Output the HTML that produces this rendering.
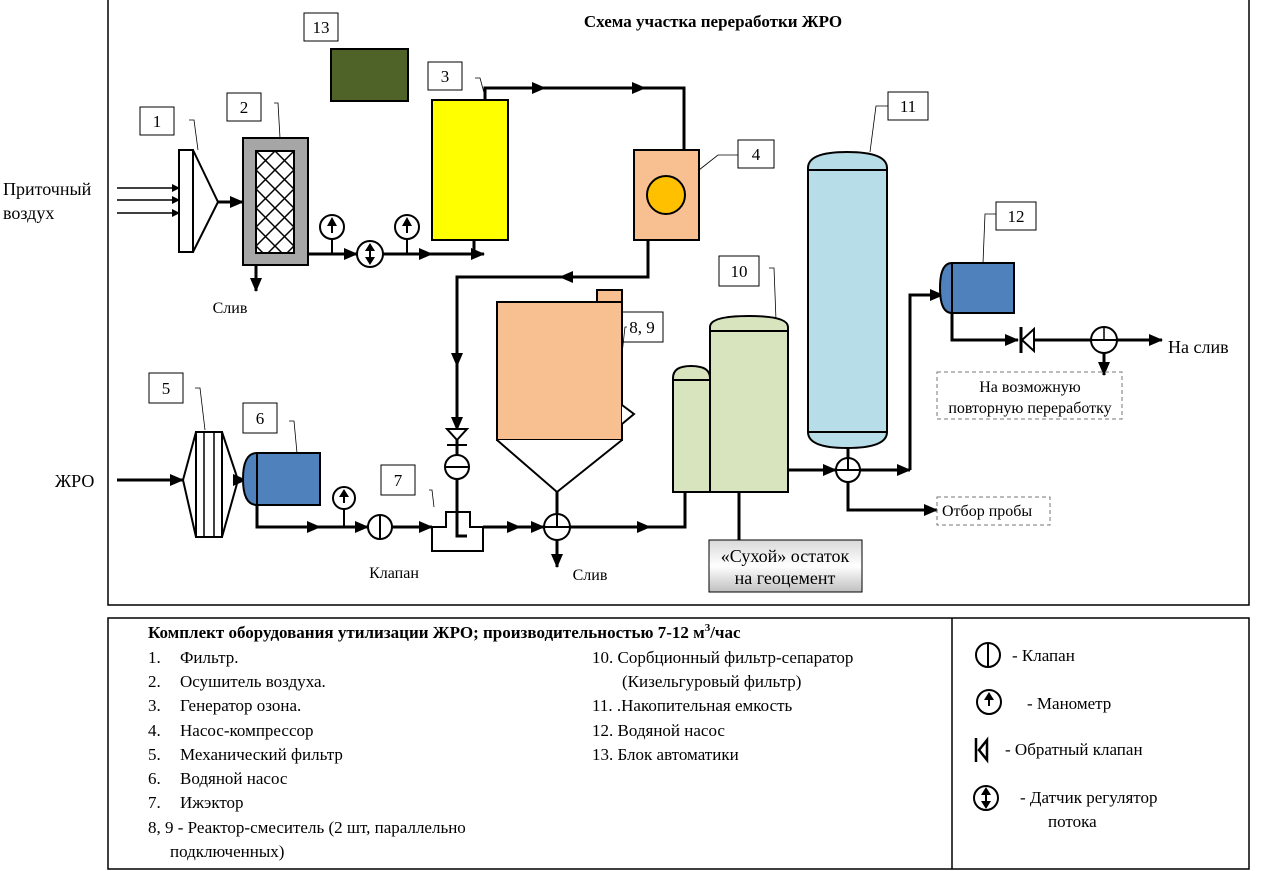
<!DOCTYPE html>
<html><head><meta charset="utf-8"><style>
html,body{margin:0;padding:0;background:#fff;}
svg{display:block;font-family:"Liberation Serif",serif;}
svg text{font-family:"Liberation Serif",serif;}
</style></head><body>
<svg width="1280" height="871" viewBox="0 0 1280 871" xmlns="http://www.w3.org/2000/svg">
<defs>
<marker id="a" markerWidth="8" markerHeight="8" refX="7" refY="4" orient="auto" markerUnits="userSpaceOnUse"><path d="M0,0 L8,4 L0,8 z" fill="#000"/></marker>
<marker id="b" markerWidth="14" markerHeight="12" refX="13" refY="6" orient="auto" markerUnits="userSpaceOnUse"><path d="M0,0 L14,6 L0,12 z" fill="#000"/></marker>
<pattern id="h" width="19" height="19" patternUnits="userSpaceOnUse" x="256" y="151"><rect width="19" height="19" fill="#fff"/><path d="M0,0 L19,19 M19,0 L0,19" stroke="#000" stroke-width="1.5"/></pattern>
<linearGradient id="g" x1="0" y1="0" x2="0" y2="1"><stop offset="0" stop-color="#d9d9d9"/><stop offset="0.5" stop-color="#fff"/><stop offset="1" stop-color="#bfbfbf"/></linearGradient>
</defs>
<rect x="108" y="-2" width="1141" height="607" fill="none" stroke="#000" stroke-width="1.5"/>
<rect x="108" y="618" width="1141" height="251" fill="none" stroke="#000" stroke-width="1.5"/>
<line x1="952" y1="618" x2="952" y2="869" stroke="#000" stroke-width="1.5"/>
<text x="713" y="27" font-size="17" font-weight="bold" text-anchor="middle">Схема участка переработки ЖРО</text>

<g fill="#fff" stroke="#000" stroke-width="1">
<rect x="304" y="13" width="34" height="28"/><rect x="428" y="62" width="34" height="28"/>
<rect x="140" y="107" width="34" height="28"/><rect x="227" y="93" width="34" height="28"/>
<rect x="738" y="140" width="36" height="28"/><rect x="888" y="92" width="40" height="28"/>
<rect x="996" y="202" width="40" height="28"/><rect x="719" y="256" width="40" height="30"/>
<rect x="621" y="312" width="42" height="30"/><rect x="149" y="373" width="34" height="30"/>
<rect x="243" y="403" width="34" height="30"/><rect x="381" y="465" width="34" height="30"/>
</g>
<g font-size="17" text-anchor="middle">
<text x="321" y="33">13</text><text x="445" y="82">3</text><text x="157" y="127">1</text><text x="244" y="113">2</text>
<text x="756" y="160">4</text><text x="908" y="112">11</text><text x="1016" y="222">12</text><text x="739" y="277">10</text>
<text x="642" y="333">8, 9</text><text x="166" y="394">5</text><text x="260" y="424">6</text><text x="398" y="486">7</text>
</g>
<g fill="none" stroke="#000" stroke-width="0.8">
<path d="M189,120 L194,120 L198,150"/><path d="M274,103 L278,103 L280,138"/><path d="M475,78 L480,78 L486,100"/>
<path d="M738,155 L718,155 L699,170"/><path d="M888,106 L876,106 L870,152"/><path d="M996,214 L985,214 L983,263"/>
<path d="M769,268 L774,268 L776,320"/><path d="M627,327 L625,327 L620,372"/><path d="M195,388 L200,388 L205,430"/>
<path d="M289,421 L294,421 L297,453"/><path d="M429,490 L432,490 L434,507"/>
</g>

<rect x="331" y="49" width="77" height="52" fill="#4F6228" stroke="#000" stroke-width="2"/>
<rect x="432" y="100" width="76" height="140" fill="#FFFF00" stroke="#000" stroke-width="2"/>
<rect x="634" y="150" width="65" height="90" fill="#F8C090" stroke="#000" stroke-width="2"/>
<circle cx="666" cy="195" r="19" fill="#FFC000" stroke="#000" stroke-width="2"/>

<rect x="179" y="150" width="14" height="102" fill="#fff" stroke="#000" stroke-width="2"/>
<path d="M193,150 L218,202 L193,252" fill="none" stroke="#000" stroke-width="2"/>
<g stroke="#000" stroke-width="1.5" marker-end="url(#a)"><line x1="117" y1="188" x2="179" y2="188"/><line x1="117" y1="200" x2="179" y2="200"/><line x1="117" y1="213" x2="179" y2="213"/></g>
<g stroke="#000" stroke-width="3" fill="none" marker-end="url(#b)">
<line x1="218" y1="202" x2="243" y2="202"/>
<line x1="256" y1="265" x2="256" y2="291"/>
<line x1="308" y1="254" x2="357" y2="254"/>
<line x1="383" y1="254" x2="432" y2="254"/>
<line x1="432" y1="254" x2="484" y2="254"/>
<polyline points="485,100 485,88 545,88"/>
<line x1="545" y1="88" x2="645" y2="88"/>
<polyline points="645,88 684,88 684,150" marker-end="none"/>
<polyline points="648,240 648,277 560,277"/>
<polyline points="560,277 457,277 457,366"/>
<line x1="457" y1="366" x2="457" y2="430"/>
</g>
<rect x="243" y="138" width="65" height="127" fill="#A6A6A6" stroke="#000" stroke-width="2"/>
<rect x="256" y="151" width="38" height="102" fill="url(#h)" stroke="#000" stroke-width="2"/>
<line x1="474" y1="240" x2="474" y2="254" stroke="#000" stroke-width="3"/>
<g stroke="#000" stroke-width="2" fill="#fff">
<line x1="332" y1="239" x2="332" y2="254"/><circle cx="332" cy="227" r="12"/>
<line x1="407" y1="239" x2="407" y2="254"/><circle cx="407" cy="227" r="12"/>
<circle cx="370" cy="254" r="13"/>
</g>
<g fill="#000"><path d="M332,217 L327,226 L337,226z"/><rect x="331" y="225" width="2" height="8"/>
<path d="M407,217 L402,226 L412,226z"/><rect x="406" y="225" width="2" height="8"/>
<path d="M370,243 L365,251 L375,251z M370,265 L365,257 L375,257z"/><rect x="369" y="250" width="2" height="8"/></g>
<text x="230" y="313" font-size="16" text-anchor="middle">Слив</text>

<path d="M447,429 L467,429 L457,440 z M447,445 L467,445" fill="#fff" stroke="#000" stroke-width="2"/>
<line x1="457" y1="440" x2="457" y2="516" stroke="#000" stroke-width="3"/>
<circle cx="457" cy="467" r="12" fill="#fff" stroke="#000" stroke-width="2"/>
<line x1="445" y1="467" x2="469" y2="467" stroke="#000" stroke-width="2"/>

<rect x="597" y="290" width="25" height="12" fill="#F8C090" stroke="#000" stroke-width="2"/>
<rect x="497" y="302" width="125" height="138" fill="#F8C090" stroke="#000" stroke-width="2"/>
<path d="M622,405 L634,414 L622,424" fill="#fff" stroke="#000" stroke-width="2"/>
<path d="M497,440 L557,492 L622,440" fill="#fff" stroke="#000" stroke-width="2"/>
<line x1="557" y1="492" x2="557" y2="514" stroke="#000" stroke-width="3"/>

<path d="M196,432 L183,480 L196,537 M222,432 L238,480 L222,537" fill="none" stroke="#000" stroke-width="2"/>
<rect x="196" y="432" width="26" height="105" fill="#fff" stroke="#000" stroke-width="2"/>
<line x1="204" y1="432" x2="204" y2="537" stroke="#000" stroke-width="1.5"/><line x1="214" y1="432" x2="214" y2="537" stroke="#000" stroke-width="1.5"/>
<g stroke="#000" stroke-width="3" fill="none" marker-end="url(#b)">
<line x1="117" y1="480" x2="183" y2="480"/>
<line x1="238" y1="480" x2="246" y2="480"/>
<polyline points="257,505 257,527 320,527"/>
<line x1="320" y1="527" x2="368" y2="527"/>
<line x1="392" y1="527" x2="432" y2="527"/>
<line x1="483" y1="527" x2="520" y2="527"/>
<line x1="520" y1="527" x2="544" y2="527"/>
<line x1="557" y1="540" x2="557" y2="567"/>
<line x1="570" y1="527" x2="650" y2="527"/>
<polyline points="650,527 685,527 685,492" marker-end="none"/>
</g>
<path d="M257,453 Q243,453 243,479 Q243,505 257,505 z" fill="#4F81BD" stroke="#000" stroke-width="2"/>
<rect x="257" y="453" width="63" height="52" fill="#4F81BD" stroke="#000" stroke-width="2"/>
<g stroke="#000" stroke-width="2" fill="#fff">
<line x1="344" y1="509" x2="344" y2="527"/><circle cx="344" cy="498" r="11"/>
<circle cx="380" cy="527" r="12"/><line x1="380" y1="515" x2="380" y2="539"/>
<circle cx="557" cy="527" r="13"/><line x1="544" y1="527" x2="570" y2="527"/><line x1="557" y1="514" x2="557" y2="527"/>
</g>
<path d="M344,489 L339,497 L349,497z" fill="#000"/><rect x="343" y="496" width="2" height="7" fill="#000"/>
<path d="M432,551 L432,527 L446,527 L446,512 L470,512 L470,527 L483,527 L483,551 z" fill="#fff" stroke="#000" stroke-width="2"/>
<polyline points="457,512 457,536 467,536" fill="none" stroke="#000" stroke-width="3"/>
<text x="394" y="578" font-size="16" text-anchor="middle">Клапан</text>
<text x="590" y="580" font-size="16" text-anchor="middle">Слив</text>

<path d="M673,378 Q673,366 691,366 Q710,366 710,378 L710,492 L673,492 z" fill="#D7E4BD" stroke="#000" stroke-width="2"/>
<line x1="673" y1="380" x2="710" y2="380" stroke="#000" stroke-width="2"/>
<path d="M710,327 Q710,316 749,316 Q788,316 788,327 L788,492 L710,492 z" fill="#D7E4BD" stroke="#000" stroke-width="2"/>
<line x1="710" y1="331" x2="788" y2="331" stroke="#000" stroke-width="2"/>
<line x1="739" y1="492" x2="739" y2="540" stroke="#000" stroke-width="3"/>
<rect x="709" y="540" width="153" height="52" fill="url(#g)" stroke="#000" stroke-width="1"/>
<text x="785" y="562" font-size="18" text-anchor="middle">«Сухой» остаток</text>
<text x="785" y="584" font-size="18" text-anchor="middle">на геоцемент</text>

<path d="M808,168 Q808,152 847,152 Q887,152 887,168 L887,432 Q887,448 847,448 Q808,448 808,432 z" fill="#B7DDE8" stroke="#000" stroke-width="2"/>
<line x1="808" y1="170" x2="887" y2="170" stroke="#000" stroke-width="2"/>
<line x1="808" y1="432" x2="887" y2="432" stroke="#000" stroke-width="2"/>
<line x1="848" y1="448" x2="848" y2="460" stroke="#000" stroke-width="3"/>
<g stroke="#000" stroke-width="3" fill="none" marker-end="url(#b)">
<line x1="788" y1="470" x2="836" y2="470"/>
<line x1="860" y1="470" x2="910" y2="470"/>
<polyline points="910,470 910,295 943,295"/>
<polyline points="848,482 848,510 937,510"/>
<polyline points="952,313 952,340 1018,340"/>
<line x1="1033" y1="340" x2="1092" y2="340" marker-end="none"/>
<line x1="1117" y1="340" x2="1162" y2="340"/>
<line x1="1104" y1="353" x2="1104" y2="375"/>
</g>
<circle cx="848" cy="470" r="12" fill="#fff" stroke="#000" stroke-width="2"/>
<line x1="836" y1="470" x2="860" y2="470" stroke="#000" stroke-width="2"/><line x1="848" y1="458" x2="848" y2="470" stroke="#000" stroke-width="2"/>
<path d="M952,263 Q940,263 940,288 Q940,313 952,313 z" fill="#4F81BD" stroke="#000" stroke-width="2"/>
<rect x="952" y="263" width="62" height="50" fill="#4F81BD" stroke="#000" stroke-width="2"/>
<path d="M1034,329 L1022,340 L1034,351 z" fill="#fff" stroke="#000" stroke-width="2"/>
<line x1="1021" y1="327" x2="1021" y2="353" stroke="#000" stroke-width="3"/>
<circle cx="1104" cy="340" r="13" fill="#fff" stroke="#000" stroke-width="2"/>
<line x1="1091" y1="340" x2="1117" y2="340" stroke="#000" stroke-width="2"/><line x1="1104" y1="326" x2="1104" y2="340" stroke="#000" stroke-width="1.5"/>
<text x="1168" y="353" font-size="18">На слив</text>
<rect x="937" y="372" width="185" height="47" fill="none" stroke="#777" stroke-width="1" stroke-dasharray="4,3"/>
<text x="1030" y="392" font-size="16" text-anchor="middle">На возможную</text>
<text x="1030" y="413" font-size="16" text-anchor="middle">повторную переработку</text>
<rect x="937" y="497" width="113" height="28" fill="none" stroke="#777" stroke-width="1" stroke-dasharray="4,3"/>
<text x="942" y="516" font-size="16">Отбор пробы</text>

<text x="3" y="195" font-size="18">Приточный</text>
<text x="3" y="219" font-size="18">воздух</text>
<text x="55" y="487" font-size="18">ЖРО</text>

<text x="148" y="638" font-size="17" font-weight="bold">Комплект оборудования утилизации ЖРО; производительностью 7-12 м<tspan font-size="11" dy="-7">3</tspan><tspan dy="7">/час</tspan></text>
<g font-size="17">
<text x="148" y="663">1.</text><text x="180" y="663">Фильтр.</text>
<text x="148" y="687">2.</text><text x="180" y="687">Осушитель воздуха.</text>
<text x="148" y="711">3.</text><text x="180" y="711">Генератор озона.</text>
<text x="148" y="736">4.</text><text x="180" y="736">Насос-компрессор</text>
<text x="148" y="760">5.</text><text x="180" y="760">Механический фильтр</text>
<text x="148" y="784">6.</text><text x="180" y="784">Водяной насос</text>
<text x="148" y="808">7.</text><text x="180" y="808">Ижэктор</text>
<text x="148" y="833">8, 9 - Реактор-смеситель (2 шт, параллельно</text>
<text x="170" y="857">подключенных)</text>
<text x="592" y="663">10. Сорбционный фильтр-сепаратор</text>
<text x="622" y="687">(Кизельгуровый фильтр)</text>
<text x="592" y="711">11. .Накопительная емкость</text>
<text x="592" y="736">12. Водяной насос</text>
<text x="592" y="760">13. Блок автоматики</text>
<text x="1012" y="661">- Клапан</text>
<text x="1027" y="709">- Манометр</text>
<text x="1005" y="755">- Обратный клапан</text>
<text x="1020" y="803">- Датчик регулятор</text>
<text x="1048" y="827">потока</text>
</g>
<g stroke="#000" stroke-width="2" fill="none">
<circle cx="988" cy="655" r="12"/><line x1="988" y1="643" x2="988" y2="667"/>
<circle cx="989" cy="702" r="12"/>
<path d="M976,738 L976,762 M987,740 L979,750 L987,760 Z" stroke-width="2.5"/>
<circle cx="986" cy="798" r="12"/>
</g>
<path d="M989,692 L984,700 L994,700z" fill="#000"/><rect x="988" y="699" width="2" height="7" fill="#000"/>
<path d="M986,787 L981,795 L991,795z M986,809 L981,801 L991,801z" fill="#000"/><rect x="985" y="794" width="2" height="8" fill="#000"/>
</svg>
</body></html>
